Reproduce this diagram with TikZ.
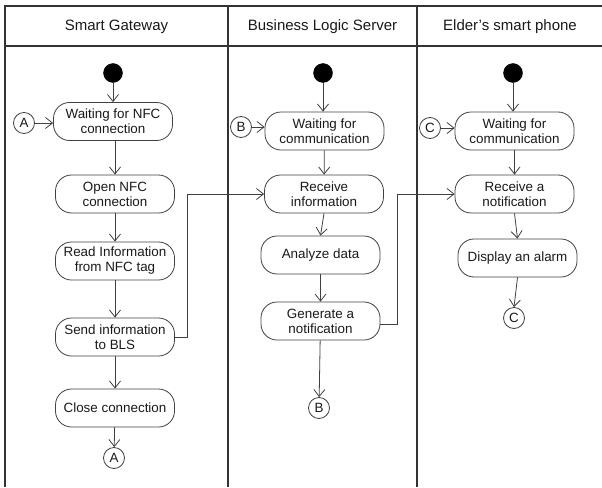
\documentclass[tikz,border=0pt]{standalone}
\usepackage{fontspec}
\setmainfont{Liberation Sans}
\usetikzlibrary{arrows.meta}

\tikzset{
  frameline/.style={line width=1.1pt, draw=black!80},
  lanehead/.style={font=\fontsize{15}{17}\selectfont, text=black!90},
  action/.style={draw=black!75, line width=0.8pt, rounded corners=16pt,
    minimum width=119pt, minimum height=38pt, inner sep=0pt, align=center,
    font=\fontsize{13.4}{15}\selectfont, text=black!90},
  startdot/.style={circle, fill=black, draw=black, minimum size=19pt, inner sep=0pt},
  connector/.style={circle, draw=black!75, line width=0.8pt, minimum size=21pt, inner sep=0pt,
    font=\fontsize{13.4}{15}\selectfont, text=black!90},
  flow/.style={draw=black!75, line width=0.8pt,
    -{Straight Barb[length=7pt,width=11pt,line width=0.8pt]}}
}

\begin{document}
\begin{tikzpicture}[x=1pt,y=-1pt]
  \useasboundingbox (0,0) rectangle (602,487);

  % swimlane frame
  \draw[frameline] (5,487) -- (5,6) -- (602,6);
  \draw[frameline] (5,46) -- (602,46);
  \draw[frameline] (228,6) -- (228,487);
  \draw[frameline] (417,6) -- (417,487);

  % lane titles
  \node[lanehead] (hsg)  at (116.5,27) {Smart Gateway};
  \node[lanehead] (hbls) at (322.5,27) {Business Logic Server};
  \node[lanehead] (hesp) at (510,27) {Elder’s smart phone};

  % Smart Gateway lane
  \node[startdot] (s1) at (113,73) {};
  \node[action] (wnfc) at (113,121.5) {Waiting for NFC\\connection};
  \node[connector] (ain) at (24,123) {A};
  \node[action] (open) at (115,194) {Open NFC\\connection};
  \node[action] (read) at (115,261) {Read Information\\from NFC tag};
  \node[action] (send) at (115,337) {Send information\\to BLS};
  \node[action] (close) at (115,408) {Close connection};
  \node[connector] (aout) at (114,458) {A};

  % Business Logic Server lane
  \node[startdot] (s2) at (323,73) {};
  \node[action] (wbls) at (324.5,131) {Waiting for\\communication};
  \node[connector] (bin) at (241,127) {B};
  \node[action] (recv) at (324,194) {Receive\\information};
  \node[action] (anal) at (320.5,255) {Analyze data};
  \node[action] (gen) at (320.5,321) {Generate a\\notification};
  \node[connector] (bout) at (319,408) {B};

  % Elder's smart phone lane
  \node[startdot] (s3) at (513,73) {};
  \node[action] (wesp) at (514.5,131) {Waiting for\\communication};
  \node[connector] (cin) at (430,128) {C};
  \node[action] (rnote) at (514.5,194) {Receive a\\notification};
  \node[action] (alarm) at (517.5,258) {Display an alarm};
  \node[connector] (cout) at (514,318) {C};

  % flows, Smart Gateway
  \draw[flow] (s1) -- (s1 |- wnfc.north);
  \draw[flow] (ain) -- (ain -| wnfc.west);
  \draw[flow] (wnfc.south -| open.north) -- (open.north);
  \draw[flow] (open) -- (read);
  \draw[flow] (read) -- (send);
  \draw[flow] (send) -- (close);
  \draw[flow] (close) -- (aout);
  \draw[flow] (send.east) -- ++(12,0) |- (recv.west);

  % flows, Business Logic Server
  \draw[flow] (s2) -- (s2 |- wbls.north);
  \draw[flow] (bin) -- (bin -| wbls.west);
  \draw[flow] (wbls) -- (recv);
  \draw[flow] (recv.south) -- (anal.north);
  \draw[flow] (anal) -- (gen);
  \draw[flow] (gen) -- (bout);
  \draw[flow] ([yshift=-3pt]gen.east) -- ++(17,0) |- (rnote.west);

  % flows, Elder's smart phone
  \draw[flow] (s3) -- (s3 |- wesp.north);
  \draw[flow] (cin) -- (cin -| wesp.west);
  \draw[flow] (wesp) -- (rnote);
  \draw[flow] (rnote.south) -- (alarm.north);
  \draw[flow] (alarm.south) -- (cout.north);
\end{tikzpicture}
\end{document}
